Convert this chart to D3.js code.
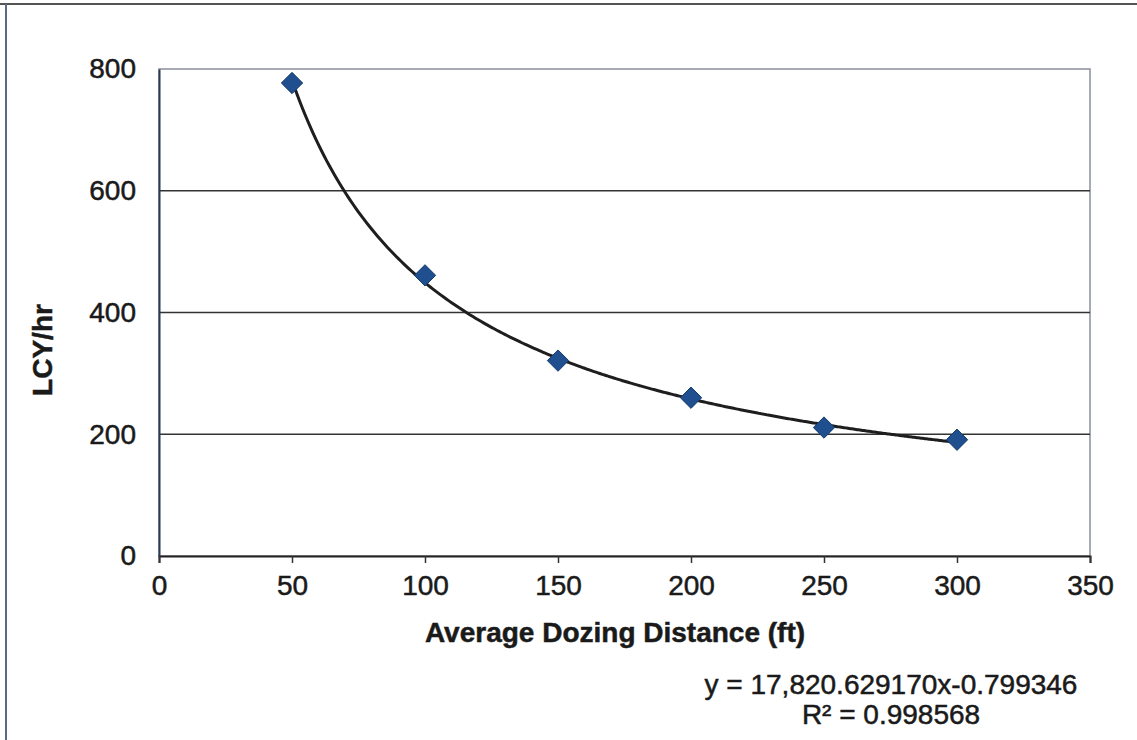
<!DOCTYPE html>
<html lang="en">
<head>
    <meta charset="UTF-8">
    <script src="https://d3js.org/d3.v7.min.js"></script>
    <title>Dozing production</title>
    <style>
        body { margin: 0; background: #fff; }
        text { font-family: "Liberation Sans", Arial, sans-serif; fill: #1a1a1a; stroke: #1a1a1a; stroke-width: 0.5px; }
        .grid-line { stroke: #333; stroke-width: 1.5px; }
    </style>
</head>
<body>
    <div id="chart"></div>
    <script>
        // data
        var distances = [50, 100, 150, 200, 250, 300];
        var production = [777, 461, 321, 260, 211, 191];
        var xTicks = [0, 50, 100, 150, 200, 250, 300, 350];
        var yTicks = [0, 200, 400, 600, 800];
        // power trendline as printed on the chart
        var trendA = 17820.629170;
        var trendB = -0.799346;
        var trendText = ["y = 17,820.629170x-0.799346", "R² = 0.998568"];

        var width = 1137, height = 740;
        var plotLeft = 159, plotRight = 1090, plotTop = 69, plotBottom = 556;

        var svg = d3.select("#chart")
            .append("svg")
            .attr("width", width)
            .attr("height", height);

        // outer frame (page edges of the scan)
        svg.append("line")
            .attr("x1", 0).attr("x2", width)
            .attr("y1", 4).attr("y2", 4)
            .attr("stroke", "#555").attr("stroke-width", 2);
        svg.append("line")
            .attr("x1", 6).attr("x2", 6)
            .attr("y1", 4).attr("y2", height)
            .attr("stroke", "#5a6b86").attr("stroke-width", 2);

        var x = d3.scaleLinear().domain([0, 350]).range([plotLeft, plotRight]);
        var y = d3.scaleLinear().domain([0, 800]).range([plotBottom, plotTop]);

        // plot area border
        svg.append("rect")
            .attr("x", plotLeft).attr("y", plotTop)
            .attr("width", plotRight - plotLeft).attr("height", plotBottom - plotTop)
            .attr("fill", "none").attr("stroke", "#8a8f99").attr("stroke-width", 1.5);

        // horizontal gridlines
        svg.append("g")
            .selectAll("line")
            .data(yTicks.filter(function (d) { return d > 0 && d < 800; }))
            .enter().append("line")
            .attr("class", "grid-line")
            .attr("x1", plotLeft).attr("x2", plotRight)
            .attr("y1", function (d) { return y(d); })
            .attr("y2", function (d) { return y(d); });

        // axes
        var xAxis = d3.axisBottom(x).tickValues(xTicks).tickSize(7).tickPadding(12);
        var gx = svg.append("g")
            .attr("transform", "translate(0," + plotBottom + ")")
            .call(xAxis);
        gx.select(".domain").attr("stroke", "#222").attr("stroke-width", 2);
        gx.selectAll(".tick line").attr("stroke", "#333").attr("stroke-width", 1.5);
        gx.selectAll(".tick text")
            .attr("font-size", 28).attr("font-family", "Liberation Sans, Arial, sans-serif")
            .attr("fill", "#1a1a1a");

        var yAxis = d3.axisLeft(y).tickValues(yTicks).tickSize(0).tickPadding(23);
        var gy = svg.append("g")
            .attr("transform", "translate(" + plotLeft + ",0)")
            .call(yAxis);
        gy.select(".domain").attr("stroke", "#2a3a55").attr("stroke-width", 2);
        gy.selectAll(".tick text")
            .attr("font-size", 28).attr("font-family", "Liberation Sans, Arial, sans-serif")
            .attr("fill", "#1a1a1a");

        // trendline
        var trendPts = d3.range(distances[0], distances[distances.length - 1] + 0.5, 1)
            .map(function (d) { return [d, trendA * Math.pow(d, trendB)]; });
        svg.append("path")
            .datum(trendPts)
            .attr("fill", "none")
            .attr("stroke", "#1e1e1e")
            .attr("stroke-width", 3)
            .attr("d", d3.line()
                .x(function (d) { return x(d[0]); })
                .y(function (d) { return y(d[1]); })
                .curve(d3.curveMonotoneX));

        // diamond markers
        var diamond = d3.symbol().type(d3.symbolDiamond2).size(290);
        svg.selectAll(".pt")
            .data(distances)
            .enter().append("path")
            .attr("class", "pt")
            .attr("d", diamond)
            .attr("transform", function (d, i) {
                return "translate(" + x(d) + "," + y(production[i]) + ")";
            })
            .attr("fill", "#1f4f8f")
            .attr("stroke", "#163a6b")
            .attr("stroke-width", 1);

        // axis titles
        svg.append("text")
            .attr("x", 615)
            .attr("y", 642)
            .attr("text-anchor", "middle")
            .attr("font-size", 28)
            .attr("font-weight", "bold")
            .text("Average Dozing Distance (ft)");

        svg.append("text")
            .attr("transform", "translate(52,350) rotate(-90)")
            .attr("text-anchor", "middle")
            .attr("font-size", 28)
            .attr("font-weight", "bold")
            .text("LCY/hr");

        // trendline equation
        svg.selectAll(".eq")
            .data(trendText)
            .enter().append("text")
            .attr("class", "eq")
            .attr("x", 891)
            .attr("y", function (d, i) { return 694 + i * 30; })
            .attr("text-anchor", "middle")
            .attr("font-size", 28)
            .text(function (d) { return d; });
    </script>
</body>
</html>
